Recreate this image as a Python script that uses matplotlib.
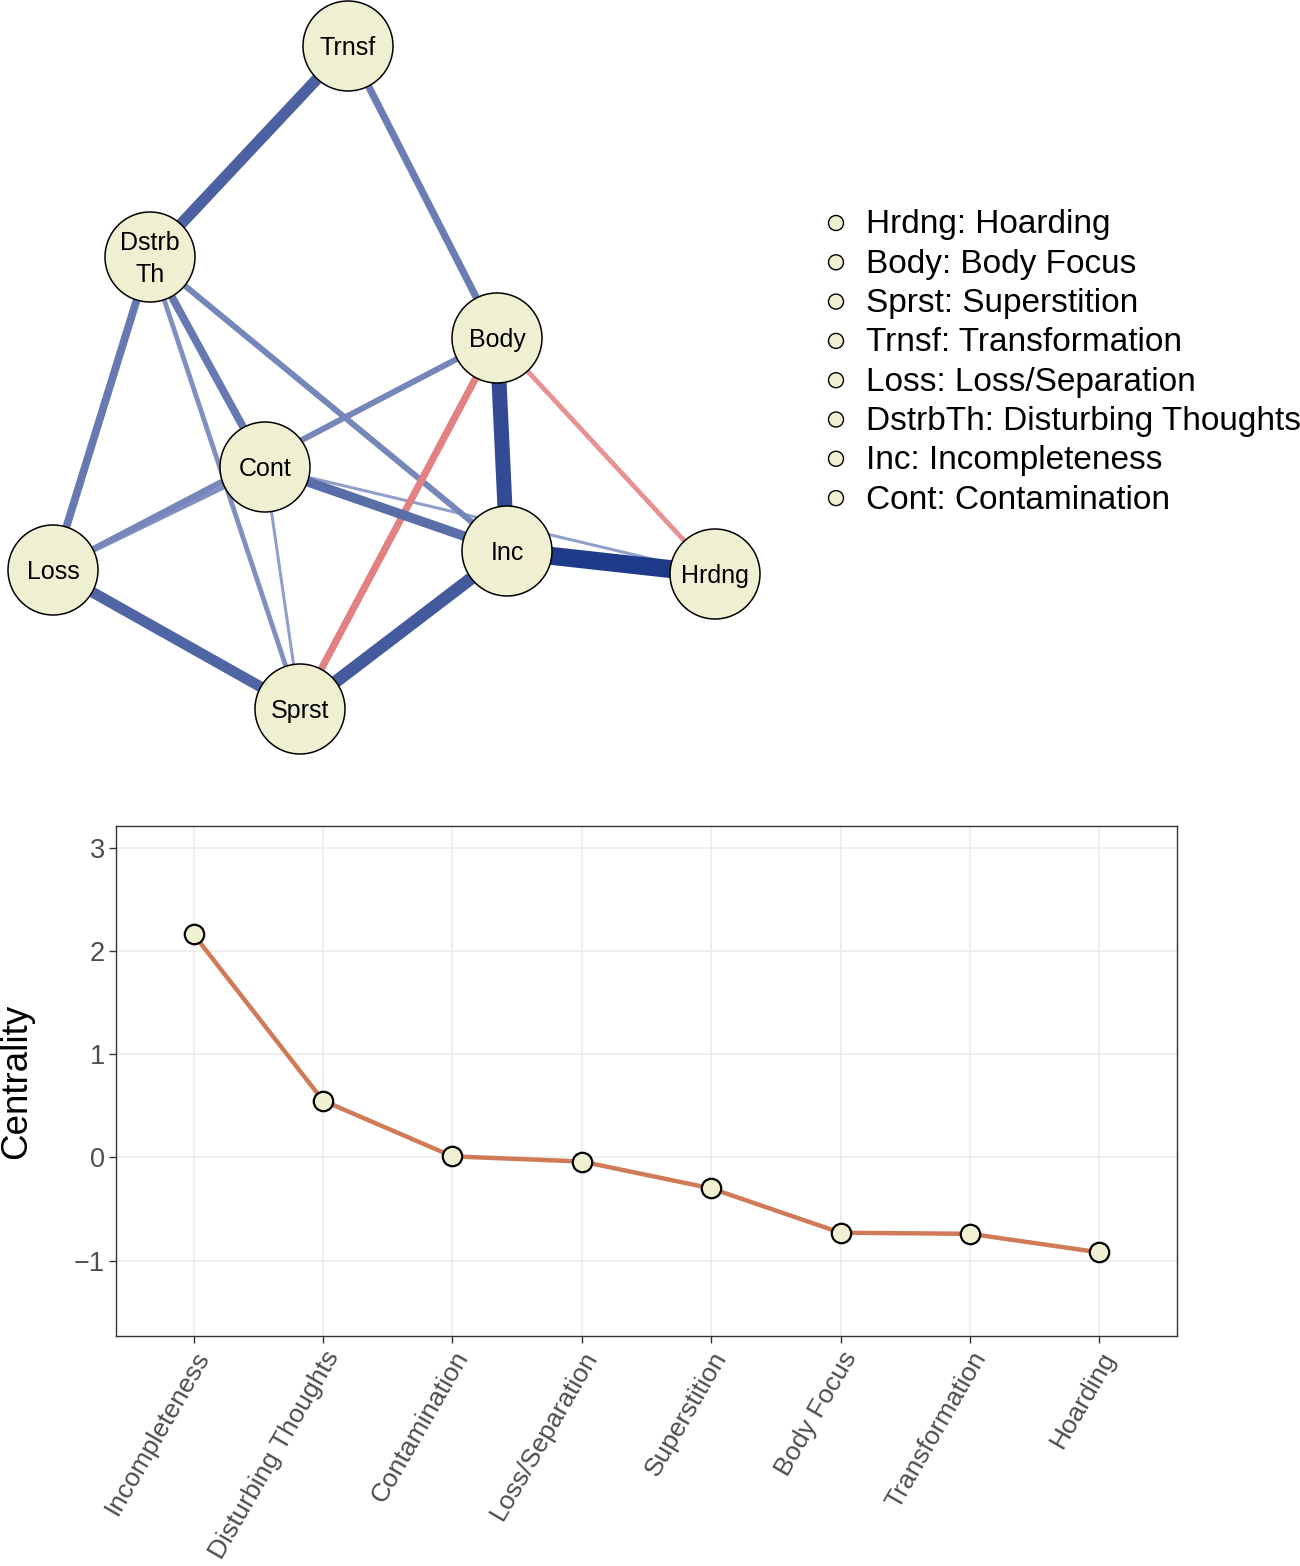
import numpy as np
import matplotlib
matplotlib.use("Agg")
import matplotlib.pyplot as plt
from matplotlib.patches import Circle
from matplotlib.colors import to_rgb

plt.rcParams["font.family"] = ["Liberation Sans", "DejaVu Sans"]

# *******************
# Network data
# *******************
node_names = ["Trnsf", "Dstrb\nTh", "Body", "Cont", "Loss", "Inc", "Hrdng", "Sprst"]
node_keys = ["Trnsf", "DstrbTh", "Body", "Cont", "Loss", "Inc", "Hrdng", "Sprst"]

# layout (pixel coords of the drawn graph)
node_x = [348, 150, 497, 265, 53, 507, 715, 300]
node_y = [46, 257, 338, 467, 570, 551, 574, 709]

edge_from = ["Inc", "Body", "Inc", "Trnsf", "Loss", "Cont", "DstrbTh", "DstrbTh",
             "Trnsf", "DstrbTh", "Loss", "DstrbTh", "Loss", "Cont", "Cont",
             "Body", "Body"]
edge_to = ["Hrdng", "Inc", "Sprst", "DstrbTh", "Sprst", "Inc", "Loss", "Cont",
           "Body", "Inc", "Body", "Sprst", "Cont", "Hrdng", "Sprst",
           "Sprst", "Hrdng"]
edge_weight = [0.30, 0.25, 0.21, 0.19, 0.18, 0.16, 0.13, 0.13,
               0.12, 0.10, 0.10, 0.08, 0.08, 0.05, 0.05,
               -0.12, -0.08]

legend_labels = [
    "Hrdng: Hoarding",
    "Body: Body Focus",
    "Sprst: Superstition",
    "Trnsf: Transformation",
    "Loss: Loss/Separation",
    "DstrbTh: Disturbing Thoughts",
    "Inc: Incompleteness",
    "Cont: Contamination",
]

# *******************
# Centrality data
# *******************
centrality_labels = ["Incompleteness", "Disturbing Thoughts", "Contamination",
                     "Loss/Separation", "Superstition", "Body Focus",
                     "Transformation", "Hoarding"]
centrality_values = [2.16, 0.55, 0.01, -0.04, -0.30, -0.73, -0.74, -0.92]

NODE_FILL = "#EFEFD1"
LINE_COLOR = "#D07A58"


def edge_style(w):
    """width (px) and colour from the edge weight"""
    t = min(abs(w) / 0.30, 1.0)
    if w > 0:
        light, dark = np.array(to_rgb("#B8C1DF")), np.array(to_rgb("#1F3A89"))
    else:
        light, dark = np.array(to_rgb("#F2C4C4")), np.array(to_rgb("#D03E3E"))
    col = light + (dark - light) * (t ** 0.75)
    return abs(w) * 60, tuple(col)


fig = plt.figure(figsize=(13, 15.66), dpi=100)

# *******************
# Network panel (pixel space)
# *******************
top_h = 770
ax_net = fig.add_axes([0, 1 - top_h / 1566, 1, top_h / 1566])
ax_net.set_xlim(0, 1300)
ax_net.set_ylim(top_h, 0)
ax_net.axis("off")

pos = {k: (x, y) for k, x, y in zip(node_keys, node_x, node_y)}
px2pt = 72 / 100

order = np.argsort([abs(w) for w in edge_weight])
for i in order:
    a, b, w = edge_from[i], edge_to[i], edge_weight[i]
    width, col = edge_style(w)
    ax_net.plot([pos[a][0], pos[b][0]], [pos[a][1], pos[b][1]],
                color=col, lw=width * px2pt, solid_capstyle="butt", zorder=1)

for name, x, y in zip(node_names, node_x, node_y):
    ax_net.add_patch(Circle((x, y), 45, facecolor=NODE_FILL, edgecolor="black",
                            lw=1.1, zorder=3))
    ax_net.text(x, y + 2, name, ha="center", va="center", fontsize=18,
                linespacing=1.45, zorder=4)

leg_y0, leg_dy = 223, 39.3
for j, lab in enumerate(legend_labels):
    yy = leg_y0 + j * leg_dy
    ax_net.add_patch(Circle((836, yy), 7.5, facecolor=NODE_FILL,
                            edgecolor="black", lw=1.0, zorder=3))
    ax_net.text(866, yy + 2, lab, ha="left", va="center", fontsize=24)

# *******************
# Centrality panel
# *******************
ax = fig.add_axes([116 / 1300, 1 - 1336 / 1566, 1061 / 1300, 510 / 1566])
xs = np.arange(1, len(centrality_values) + 1)
ax.plot(xs, centrality_values, color=LINE_COLOR, lw=3.2, zorder=2)
ax.plot(xs, centrality_values, "o", ms=14, mfc=NODE_FILL, mec="black",
        mew=1.6, zorder=3)

ax.set_xlim(0.4, 8.6)
ax.set_ylim(-1.73, 3.21)
ax.set_yticks([-1, 0, 1, 2, 3])
ax.set_yticklabels(["\u22121", "0", "1", "2", "3"])
ax.set_xticks(xs)
ax.set_xticklabels(centrality_labels, rotation=60, ha="right",
                   rotation_mode="anchor")
ax.grid(True, color="#EBEBEB", lw=1.2, zorder=0)
ax.set_axisbelow(True)
for sp in ax.spines.values():
    sp.set_color("#333333")
    sp.set_linewidth(1.0)
ax.tick_params(axis="both", colors="#333333", length=5, width=1,
               labelcolor="#4D4D4D")
ax.tick_params(axis="y", labelsize=19.5, pad=3)
ax.tick_params(axis="x", labelsize=19, pad=3)
ax.set_ylabel("Centrality", fontsize=26.5)
ax.yaxis.set_label_coords(-0.077, 0.5)

fig.savefig("out.png", dpi=100)
